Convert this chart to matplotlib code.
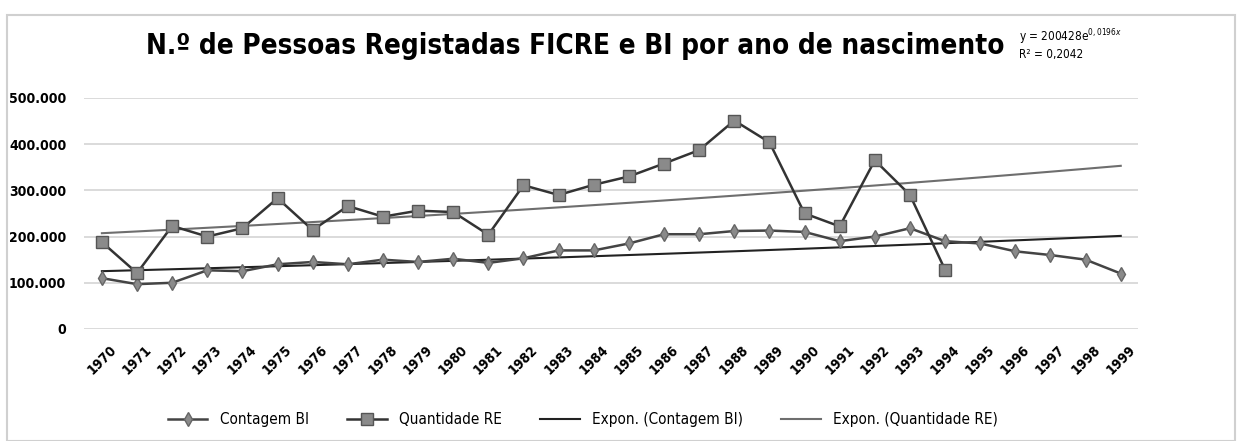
import numpy as np
import matplotlib
matplotlib.use("Agg")
from matplotlib import pyplot as plt
from matplotlib.patches import Rectangle
from matplotlib.ticker import FuncFormatter

plt.rcParams['font.family'] = ['DejaVu Sans']
plt.rcParams['font.stretch'] = 'condensed'

years = [str(y) for y in range(1970, 2000)]

contagem_bi = [110000, 97000, 100000, 127000, 125000, 140000, 145000, 140000, 150000, 145000,
               152000, 143000, 153000, 170000, 170000, 185000, 205000, 205000, 212000, 213000,
               210000, 190000, 200000, 218000, 190000, 185000, 168000, 160000, 150000, 120000]

quantidade_re = [188000, 121000, 223000, 200000, 218000, 283000, 214000, 266000, 243000, 256000,
                 253000, 204000, 311000, 290000, 312000, 330000, 358000, 387000, 451000, 404000,
                 250000, 222000, 365000, 290000, 128000]

title = "N.º de Pessoas Registadas FICRE e BI por ano de nascimento"
eq_label = "y = 200428e$^{0,0196x}$\nR² = 0,2042"


def expon_trend(values, n_out):
	# excel style exponential trendline: y = a*e^(b*x), x = 1..n
	x = np.arange(1, len(values) + 1)
	b, ln_a = np.polyfit(x, np.log(values), 1)
	xo = np.arange(1, n_out + 1)
	return np.exp(ln_a) * np.exp(b * xo)


fig = plt.figure(figsize=(12.4, 4.41), dpi=100)
fig.patches.append(Rectangle((0.006, 0.0), 0.99, 0.965, transform=fig.transFigure,
                             fill=False, edgecolor='#d0d0d0', linewidth=1.5))
ax = fig.add_axes([0.068, 0.254, 0.85, 0.524])

x = np.arange(len(years))
ax.plot(x, contagem_bi, color='#444444', linewidth=1.8, marker='d', markersize=7,
        markerfacecolor='#8a8a8a', markeredgecolor='#666666', label='Contagem BI', zorder=3)
ax.plot(x[:len(quantidade_re)], quantidade_re, color='#333333', linewidth=1.8, marker='s',
        markersize=8, markerfacecolor='#8a8a8a', markeredgecolor='#555555',
        label='Quantidade RE', zorder=3)
ax.plot(x, expon_trend(contagem_bi, len(years)), color='#222222', linewidth=1.5,
        label='Expon. (Contagem BI)', zorder=2)
ax.plot(x, expon_trend(quantidade_re, len(years)), color='#6e6e6e', linewidth=1.5,
        label='Expon. (Quantidade RE)', zorder=2)

ax.set_xlim(-0.5, len(years) - 0.5)
ax.set_ylim(0, 500000)
ax.set_yticks(range(0, 500001, 100000))
ax.yaxis.set_major_formatter(FuncFormatter(lambda v, p: f"{int(v):,}".replace(",", ".")))
ax.set_xticks(x)
ax.set_xticklabels(years, rotation=45, ha='center', va='top',
                   fontsize=10, fontweight='bold')
ax.tick_params(axis='y', labelsize=10, length=0, pad=13)
ax.tick_params(axis='x', length=0, pad=10)
for lab in ax.get_yticklabels():
	lab.set_fontweight('bold')
ax.grid(axis='y', color='#d4d4d4', linewidth=1.2)
ax.set_axisbelow(True)
for s in ax.spines.values():
	s.set_visible(False)

fig.text(0.464, 0.895, title, ha='center', va='center', fontsize=20, fontweight='bold')
fig.text(0.822, 0.90, eq_label, ha='left', va='center', fontsize=8.5, linespacing=1.1)

fig.legend(loc='lower center', bbox_to_anchor=(0.47, 0.0), ncol=4, frameon=False,
           fontsize=11, handlelength=2.6, columnspacing=2.5)

fig.savefig("out.png", dpi=100, facecolor='white')
